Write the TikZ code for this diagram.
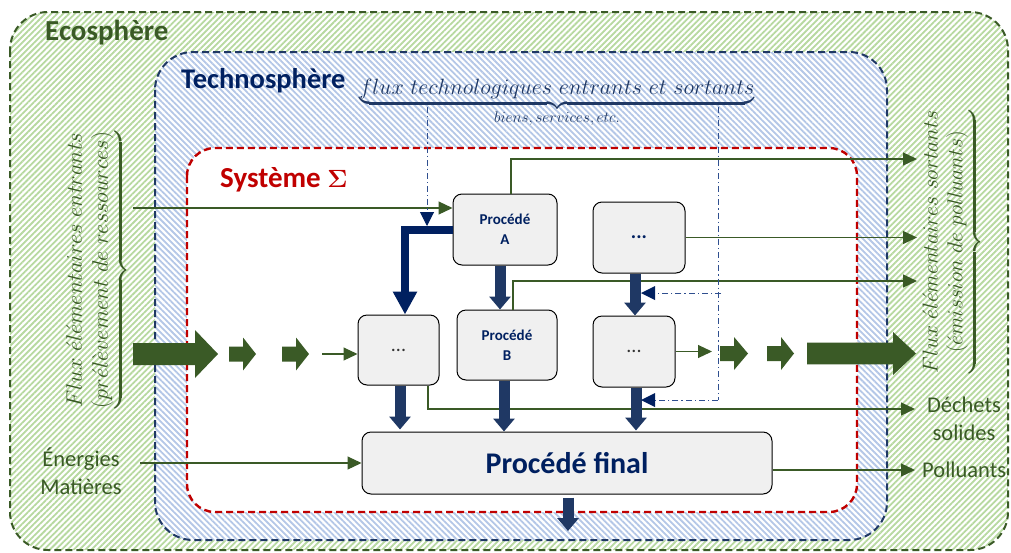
\documentclass[tikz,border=0pt]{standalone}
\usepackage{amsmath}
\usepackage{fontspec}
\newfontfamily\carl{Carlito}
\usetikzlibrary{patterns.meta,arrows.meta,calc}
\definecolor{egreen}{HTML}{3A5A26}
\definecolor{lgreen}{HTML}{B7D9A0}
\definecolor{navyb}{HTML}{1F3864}
\definecolor{navyt}{HTML}{002060}
\definecolor{lblue}{HTML}{B4C7E7}
\definecolor{dred}{HTML}{C00000}
\definecolor{boxg}{HTML}{F0F0F0}
\definecolor{dashblue}{HTML}{2F4F8F}
\newcommand\gblock[6]{\fill[egreen] (#1,#4-#5) -- (#2,#4-#5) -- (#2,#4-#6) -- (#3,#4) -- (#2,#4+#6) -- (#2,#4+#5) -- (#1,#4+#5) -- cycle;}
\begin{document}
\begin{tikzpicture}[x=1pt,y=-1pt,
  proc/.style={draw=black, line width=1pt, fill=boxg, rounded corners=9pt, inner sep=0pt, align=center},
  gline/.style={draw=egreen, line width=1.1pt, -{Triangle[length=14pt,width=13pt]}},
  tharrow/.style={draw=navyb, line width=11pt, -{Triangle[length=13pt,width=21pt]}},
  dline/.style={draw=dashblue, line width=1pt, dash pattern=on 6pt off 3pt on 1.2pt off 3pt},
  dtip/.style={-{Triangle[length=14pt,width=14pt]}, navyt},
  glabel/.style={text=egreen, font=\carl\fontsize{22.5}{28}\selectfont, inner sep=0pt, align=center},
  zone/.style={line width=2pt, dash pattern=on 7pt off 4pt}
]
\path[use as bounding box] (0,0) rectangle (1011,552);
\fill[white] (0,0) rectangle (1011,552);
% zones
\fill[white, rounded corners=38pt] (10,12) rectangle (1008,550);
\fill[rounded corners=38pt, pattern={Lines[angle=45,distance=4.2pt,line width=1.8pt]}, pattern color=lgreen] (10,12) rectangle (1008,550);
\fill[white, rounded corners=38pt] (155,52) rectangle (887,540);
\fill[rounded corners=38pt, pattern={Lines[angle=-45,distance=4.2pt,line width=1.8pt]}, pattern color=lblue] (155,52) rectangle (887,540);
\fill[white, rounded corners=28pt] (187,148) rectangle (857,512);
\draw[zone, egreen, rounded corners=38pt] (10,12) rectangle (1008,550);
\draw[zone, navyb, rounded corners=38pt] (155,52) rectangle (887,540);
\draw[zone, dred, line width=2.4pt, rounded corners=28pt] (187,148) rectangle (857,512);
% titles
\node[anchor=base west, inner sep=0pt, text=egreen, font=\carl\bfseries\fontsize{29}{32}\selectfont] (eco) at (45,40) {Ecosphère};
\node[anchor=base west, inner sep=0pt, text=navyt, font=\carl\bfseries\fontsize{28.5}{32}\selectfont] (tech) at (181,88) {Technosphère};
\node[anchor=base west, inner sep=0pt, text=dred, font=\carl\bfseries\fontsize{29}{32}\selectfont] (sys) at (220,187) {Système $\boldsymbol{\Sigma}$};
% flux technologiques
\node[anchor=north, inner sep=0pt, scale=1.066, text=navyb, font=\fontsize{20.74}{24}\selectfont] (flux) at (557,79)
  {$\underbrace{flux\ technologiques\ entrants\ et\ sortants}_{\mbox{\fontsize{14.4}{17}\selectfont$biens,services,etc.$}}$};
% vertical texts
\node[rotate=90, anchor=south, inner sep=0pt, scale=1.08, text=egreen, font=\fontsize{20.74}{24}\selectfont] (vin) at (125,270)
  {$\underbrace{\begin{tabular}{@{}c@{}}$Flux\ \acute{e}l\acute{e}mentaires\ entrants$\\ $(pr\acute{e}l\grave{e}vement\ de\ ressources)$\end{tabular}}$};
\node[rotate=90, anchor=south, inner sep=0pt, scale=1.04, text=egreen, font=\fontsize{20.74}{24}\selectfont] (vout) at (979,242)
  {$\underbrace{\begin{tabular}{@{}c@{}}$Flux\ \acute{e}l\acute{e}mentaires\ sortants$\\ $(\acute{e}mission\ de\ polluants)$\end{tabular}}$};
% boxes
\node[proc, minimum width=104pt, minimum height=71pt, text=navyt, font=\carl\bfseries\fontsize{15}{20}\selectfont] (A) at (505,229.5) {Procédé\\A};
\node[proc, minimum width=92pt, minimum height=71pt, text=navyt, font=\carl\bfseries\fontsize{20}{22}\selectfont] (TR) at (639,237.5) {...};
\node[proc, minimum width=100pt, minimum height=70pt, text=navyt, font=\carl\bfseries\fontsize{15}{20}\selectfont] (B) at (507,345) {Procédé\\B};
\node[proc, minimum width=81pt, minimum height=70pt, text=black!80, font=\carl\fontsize{20}{22}\selectfont] (L) at (398.5,350) {...};
\node[proc, minimum width=82pt, minimum height=71pt, text=black!80, font=\carl\fontsize{20}{22}\selectfont] (RM) at (634,351.5) {...};
\node[proc, minimum width=410pt, minimum height=62pt, text=navyt, font=\carl\bfseries\fontsize{30}{32}\selectfont] (F) at (567,463) {Procédé final};
% labels
\node[glabel] (dech) at (964,419) {Déchets\\solides};
\node[glabel, anchor=west] (poll) at (922,470) {Polluants};
\node[glabel] (ener) at (81,471) {Énergies\\Matières};
% coordinates
\coordinate (inA) at (133,208);
\coordinate (o1) at (917,159);
\coordinate (o2) at (917,237.5);
\coordinate (o3) at (917,281);
\coordinate (o4) at (915,409);
\coordinate (o5) at (915,470);
\coordinate (inE) at (140,463);
\coordinate (inL) at (322,354);
\coordinate (oRM) at (712,351.5);
\coordinate (d1) at (427,107);
\coordinate (d2) at (718,107);
\coordinate (d4) at (718,400);
\coordinate (fo) at (568,531);
% green thin lines
\draw[gline] (inA) -- (A.west |- inA);
\draw[gline] ($(A.north)+(6,0)$) |- (o1);
\draw[gline] (TR.east) -- (o2);
\draw[gline] ($(B.north)+(6,0)$) |- (o3);
\draw[gline] ($(L.south)+(29.5,0)$) |- (o4);
\draw[gline] (inE) -- (F.west);
\draw[gline] ($(F.east)+(0,7)$) -- (o5);
\draw[gline] (RM.east) -- (oRM);
\draw[gline] (inL) -- (L.west |- inL);
% thick navy arrows
\draw[tharrow] ($(A.south)+(-5,0)$) -- ($(B.north)+(-7,0)$);
\draw[tharrow] ($(TR.south)+(-4,0)$) -- ($(RM.north)+(1,0)$);
\draw[tharrow] ($(L.south)+(1.5,0)$) -- ($(F.north)+(-167,-2)$);
\draw[tharrow] ($(B.south)+(-3,0)$) -- ($(F.north)+(-63,0)$);
\draw[tharrow] ($(RM.south)+(2,0)$) -- ($(F.north)+(69,-1)$);
\draw[tharrow] ($(F.south)+(1,3)$) -- (fo);
\draw[draw=navyt, line width=8pt, -{Triangle[length=23pt,width=23pt]}] (A.west) -| ($(L.north)+(6.5,0)$);
% dash-dot lines
\draw[dline] (d1) -- (427,212);
\draw[dline, dtip] (427,212) -- (427,226);
\draw[dline] (d2) -- (d4);
\draw[dline] (721,293) -- (654,293);
\draw[dline] (d4) -- (655,400);
\fill[navyt] (641,293) -- (655,286) -- (655,300) -- cycle;
\fill[navyt] (641,400) -- (655,393) -- (655,407) -- cycle;
% green block arrows
\gblock{133}{195}{218}{354}{11}{24}
\gblock{229}{243}{256}{354}{7.5}{16.5}
\gblock{282}{296}{309}{354}{7.5}{16.5}
\gblock{720}{734}{748}{353.5}{7.5}{16.5}
\gblock{767}{781}{794}{353.5}{7.5}{16.5}
\gblock{807}{893}{916}{353.5}{10.8}{21.5}
\end{tikzpicture}
\end{document}
